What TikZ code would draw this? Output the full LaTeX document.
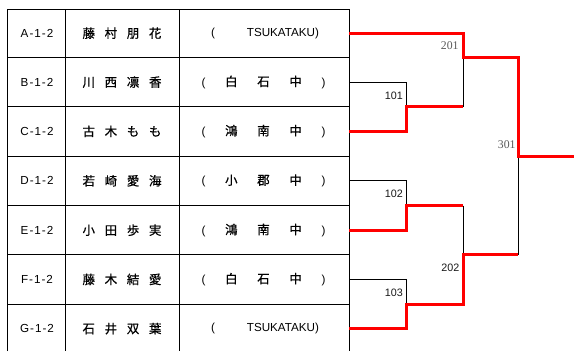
\documentclass[tikz,border=0pt]{standalone}
\usepackage{fontspec}
\setmainfont{Liberation Sans}
\newfontfamily\jpfont[FakeBold=0.6]{Noto Sans CJK JP}
\newfontfamily\myseriffont{Liberation Serif}
\newcommand\myname[4]{{\jpfont\fontsize{12.5}{13}\selectfont #1\hspace{9.7bp}#2\hspace{9.7bp}#3\hspace{9.7bp}#4}}
\newcommand\mysch[3]{\makebox[124bp]{(\hfill{\jpfont\fontsize{12.5}{13}\selectfont #1}\hfill{\jpfont\fontsize{12.5}{13}\selectfont #2}\hfill{\jpfont\fontsize{12.5}{13}\selectfont #3}\hfill)}}
\newcommand\mytsu{\makebox[108bp]{(\hfill TSUKATAKU)}}
\begin{document}
\begin{tikzpicture}[x=1bp,y=-1bp,
  tbl/.style={line width=1bp, black},
  cell/.style={inner sep=0pt, font=\fontsize{11.7}{13}\selectfont},
  win/.style={line width=3bp, red},
  lose/.style={line width=1bp, black},
  mlab/.style={inner sep=0pt, anchor=east, font=\fontsize{10.8}{12}\selectfont, text=black!90},
  rlab/.style={inner sep=0pt, anchor=east, font=\myseriffont\fontsize{11.8}{13}\selectfont, text=black!65}]
\useasboundingbox (0,0) rectangle (574,351);
% table grid
\draw[tbl] (7,351) -- (7,9) -- (349,9) -- (349,351);
\draw[tbl] (65,9) -- (65,351);
\draw[tbl] (179,9) -- (179,351);
\foreach \y in {57.5,106.7,156,205.6,254.8,304}{\draw[tbl] (7,\y) -- (349,\y);}
% cells
\node[cell] (idA) at (37,33.2) {A\kern1bp-\kern1bp1\kern1bp-\kern1bp2};
\node[cell] (idB) at (37,82.1) {B\kern1bp-\kern1bp1\kern1bp-\kern1bp2};
\node[cell] (idC) at (37,131.3) {C\kern1bp-\kern1bp1\kern1bp-\kern1bp2};
\node[cell] (idD) at (37,180.8) {D\kern1bp-\kern1bp1\kern1bp-\kern1bp2};
\node[cell] (idE) at (37,230.2) {E\kern1bp-\kern1bp1\kern1bp-\kern1bp2};
\node[cell] (idF) at (37,279.4) {F\kern1bp-\kern1bp1\kern1bp-\kern1bp2};
\node[cell] (idG) at (37,328.6) {G\kern1bp-\kern1bp1\kern1bp-\kern1bp2};
\node[cell] (nmA) at (122,33.2) {\myname{藤}{村}{朋}{花}};
\node[cell] (nmB) at (122,82.1) {\myname{川}{西}{凛}{香}};
\node[cell] (nmC) at (122,131.3) {\myname{古}{木}{も}{も}};
\node[cell] (nmD) at (122,180.8) {\myname{若}{崎}{愛}{海}};
\node[cell] (nmE) at (122,230.2) {\myname{小}{田}{歩}{実}};
\node[cell] (nmF) at (122,279.4) {\myname{藤}{木}{結}{愛}};
\node[cell] (nmG) at (122,328.6) {\myname{石}{井}{双}{葉}};
\node[cell] (scA) at (265,33.2) {\mytsu};
\node[cell] (scB) at (263.5,82.1) {\mysch{白}{石}{中}};
\node[cell] (scC) at (263.5,131.3) {\mysch{鴻}{南}{中}};
\node[cell] (scD) at (263.5,180.8) {\mysch{小}{郡}{中}};
\node[cell] (scE) at (263.5,230.2) {\mysch{鴻}{南}{中}};
\node[cell] (scF) at (263.5,279.4) {\mysch{白}{石}{中}};
\node[cell] (scG) at (265,328.6) {\mytsu};
% bracket coordinates
\coordinate (eA) at (349,33.2);
\coordinate (eB) at (349,82.1);
\coordinate (eC) at (349,131.3);
\coordinate (eD) at (349,180.8);
\coordinate (eE) at (349,230.2);
\coordinate (eF) at (349,279.4);
\coordinate (eG) at (349,328.6);
\coordinate (m101) at (406,106.7);
\coordinate (m102) at (406,205.6);
\coordinate (m103) at (406,304);
\coordinate (m201) at (463,57.5);
\coordinate (m202) at (463,254.8);
\coordinate (m301) at (518,156);
\coordinate (champ) at (574,156);
% losing branches
\draw[lose] (eB) -- (eB -| m101) -- (m101);
\draw[lose] (eD) -- (eD -| m102) -- (m102);
\draw[lose] (eF) -- (eF -| m103) -- (m103);
\draw[lose] (m101 -| m201) -- (m201);
\draw[lose] (m102 -| m202) -- (m202);
\draw[lose] (m301) -- (m301 |- m202);
% winning branches
\draw[win] (eC) -- (eC -| m101) -- (m101) -- (m101 -| m201);
\draw[win] (eE) -- (eE -| m102) -- (m102) -- (m102 -| m202);
\draw[win] (eG) -- (eG -| m103) -- (m103) -- (m103 -| m202) -- (m202) -- (m202 -| m301);
\draw[win] (eA) -- (eA -| m201) -- (m201) -- (m201 -| m301) -- (m301) -- (champ);
% labels
\node[mlab] (l101) at (403,96) {101};
\node[mlab] (l102) at (403,193.3) {102};
\node[mlab] (l103) at (403,292.7) {103};
\node[mlab] (l202) at (459.5,267.7) {202};
\node[rlab] (l201) at (458.8,46) {201};
\node[rlab] (l301) at (515.8,145) {301};
\end{tikzpicture}
\end{document}
